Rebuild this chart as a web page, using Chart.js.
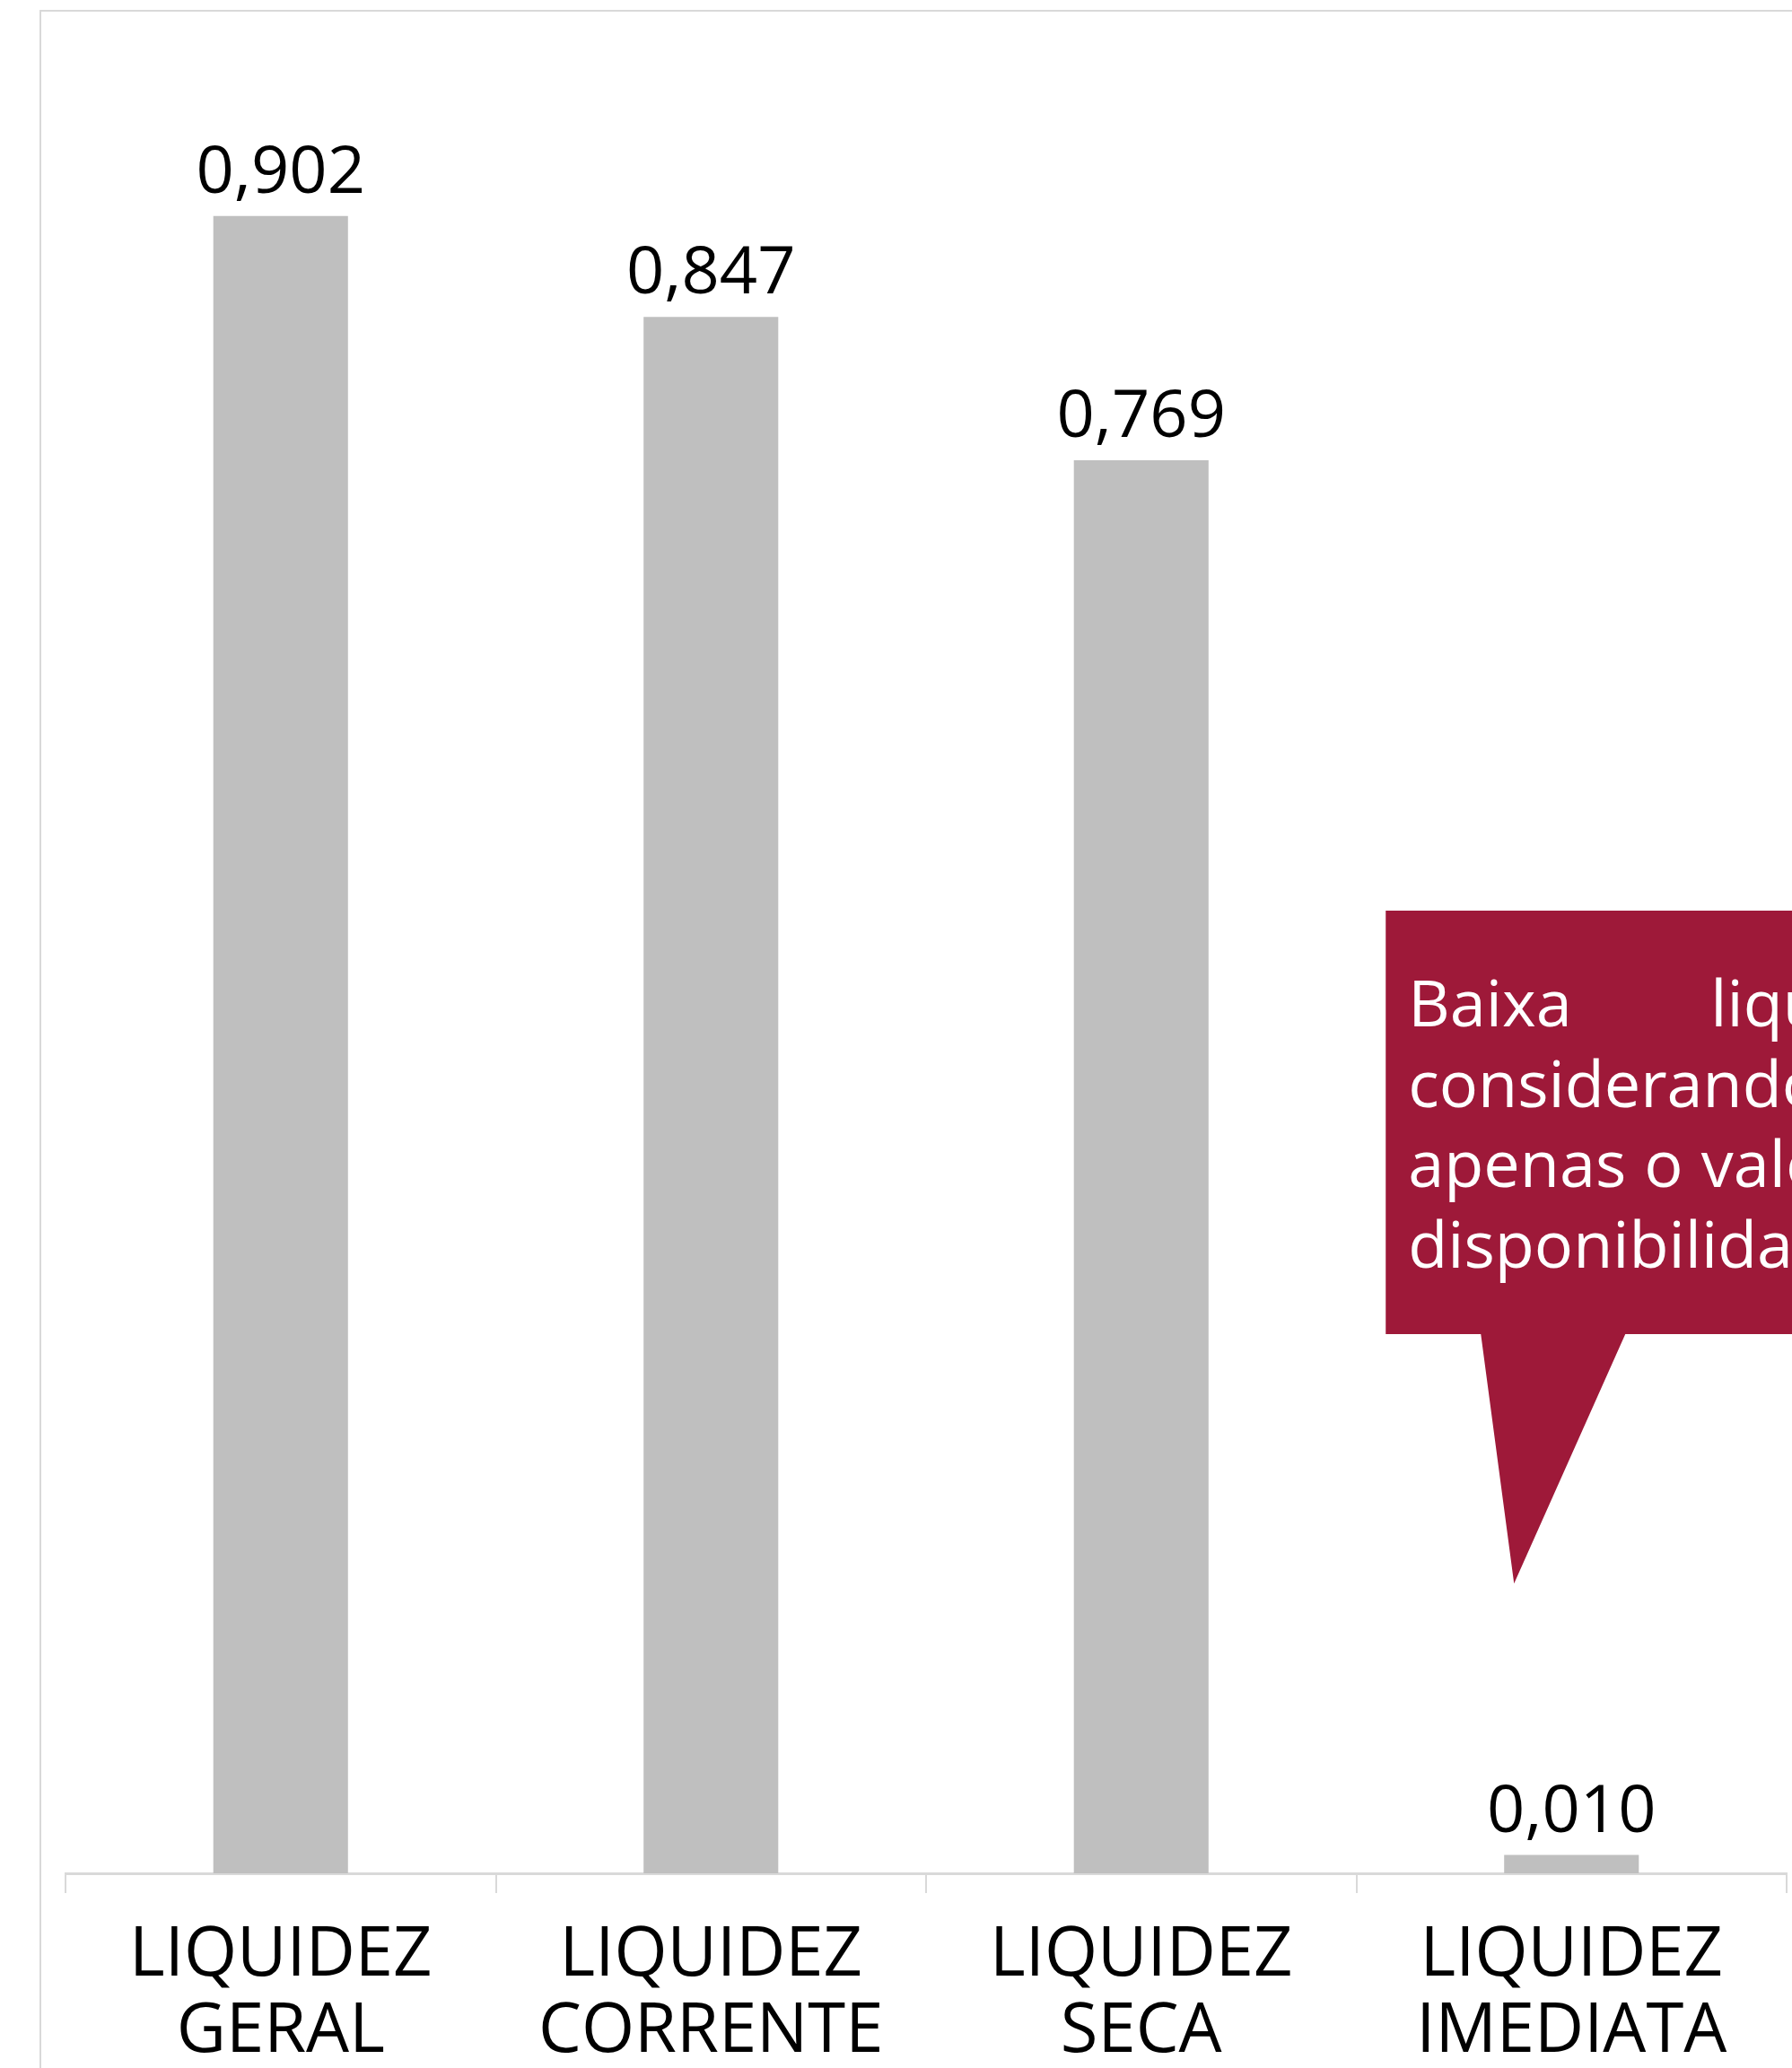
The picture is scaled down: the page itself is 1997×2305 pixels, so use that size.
<!DOCTYPE html>
<html>
<head>
<meta charset="utf-8">
<script src="https://cdn.jsdelivr.net/npm/chart.js@4/dist/chart.umd.min.js"></script>
<style>
  html, body { margin: 0; padding: 0; background: #fff; overflow: hidden; }
  canvas { display: block; }
</style>
</head>
<body>
<canvas id="c" width="1997" height="2305"></canvas>
<script>
// Liquidity ratios.
const CATEGORIES = [['LIQUIDEZ', 'GERAL'], ['LIQUIDEZ', 'CORRENTE'], ['LIQUIDEZ', 'SECA'], ['LIQUIDEZ', 'IMEDIATA']];
const VALUES = [0.902, 0.847, 0.769, 0.010];
const Y_MIN = 0, Y_MAX = 1;
const CALLOUT_LINES = ['Baixa liquidez', 'considerando', 'apenas o valor de', 'disponibilidades.'];

const FONT = "'Open Sans', 'Noto Sans', sans-serif";
const BAR = '#BFBFBF', LINE = '#D9D9D9', WINE = '#9E1939';

const fmt = v => v.toFixed(3).replace('.', ',');

// Thin frame (only top + left edges are visible in the crop).
const framePlugin = {
  id: 'frame',
  beforeDraw(chart) {
    const { ctx, width, height } = chart;
    ctx.save();
    ctx.strokeStyle = LINE; ctx.lineWidth = 2;
    ctx.beginPath();
    ctx.moveTo(45, height); ctx.lineTo(45, 12); ctx.lineTo(width, 12);
    ctx.stroke();
    ctx.restore();
  },
};

// Value labels above each bar.
const valueLabels = {
  id: 'valueLabels',
  afterDatasetsDraw(chart) {
    const { ctx } = chart;
    const meta = chart.getDatasetMeta(0);
    ctx.save();
    ctx.fillStyle = '#000';
    ctx.font = `74px ${FONT}`;
    ctx.textAlign = 'center'; ctx.textBaseline = 'alphabetic';
    meta.data.forEach((bar, i) => ctx.fillText(fmt(VALUES[i]), bar.x, bar.y - 26));
    ctx.restore();
  },
};

// Speech-bubble note pointing at the last bar (runs off the right edge, as in the original).
const callout = {
  id: 'callout',
  afterDraw(chart) {
    const { ctx } = chart;
    const last = chart.getDatasetMeta(0).data[3];
    const left = last.x - 207, top = 1015, bottom = 1487, right = left + 648;
    const tip = { x: last.x - 64, y: 1765 };
    ctx.save();
    ctx.fillStyle = WINE;
    ctx.beginPath();
    ctx.moveTo(left, top); ctx.lineTo(right, top); ctx.lineTo(right, bottom);
    ctx.lineTo(left + 267, bottom); ctx.lineTo(tip.x, tip.y); ctx.lineTo(left + 106, bottom);
    ctx.lineTo(left, bottom); ctx.closePath();
    ctx.fill();

    ctx.fillStyle = '#fff';
    ctx.font = `72px ${FONT}`;
    ctx.textBaseline = 'alphabetic'; ctx.textAlign = 'left';
    const tx = left + 25, tw = right - left - 50;
    CALLOUT_LINES.forEach((line, i) => {
      const y = 1144 + i * 89.5;
      const words = line.split(' ');
      if (i === CALLOUT_LINES.length - 1 || words.length < 2) { ctx.fillText(line, tx, y); return; }
      const used = words.reduce((s, w) => s + ctx.measureText(w).width, 0);
      const gap = (tw - used) / (words.length - 1);
      let x = tx;
      words.forEach(w => { ctx.fillText(w, x, y); x += ctx.measureText(w).width + gap; });
    });
    ctx.restore();
  },
};

new Chart(document.getElementById('c'), {
  type: 'bar',
  data: {
    labels: CATEGORIES,
    datasets: [{ data: VALUES, backgroundColor: BAR, borderWidth: 0, categoryPercentage: 1, barPercentage: 0.313 }],
  },
  options: {
    responsive: false, devicePixelRatio: 1, animation: false,
    layout: { padding: { left: 73, right: 6, top: 40, bottom: 0 } },
    plugins: { legend: { display: false }, tooltip: { enabled: false } },
    scales: {
      x: {
        grid: { drawOnChartArea: false, color: LINE, lineWidth: 2, tickLength: 22, offset: true },
        border: { color: LINE, width: 3 },
        ticks: { color: '#000', font: { family: FONT, size: 76, lineHeight: 1.12 }, padding: 28, maxRotation: 0, autoSkip: false },
        afterFit: s => { s.height = 217; },
      },
      y: { display: false, min: Y_MIN, max: Y_MAX },
    },
  },
  plugins: [framePlugin, valueLabels, callout],
});
</script>
</body>
</html>
